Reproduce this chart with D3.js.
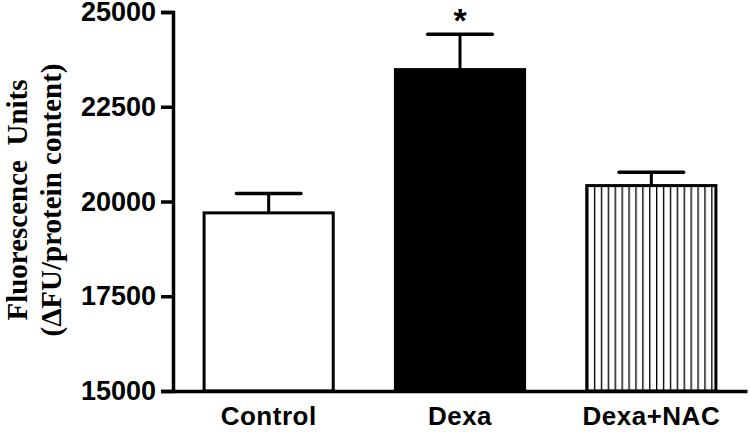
<!DOCTYPE html>
<html>
<head>
<meta charset="utf-8">
<script src="https://cdn.jsdelivr.net/npm/d3@7"></script>
<style>
  body { margin: 0; background: #fff; }
  svg { display: block; }
  .tick text { font-family: "Liberation Sans", Arial, sans-serif; font-weight: bold; }
</style>
</head>
<body>
<svg width="750" height="434"></svg>
<script>
var groups = ['Control', 'Dexa', 'Dexa+NAC'],
    means  = [19700, 23480, 20420],
    sems   = [510, 930, 350],
    marks  = ['', '*', ''],
    yTicks = [15000, 17500, 20000, 22500, 25000];

var svg = d3.select('svg'),
    w = +svg.attr('width'),
    h = +svg.attr('height');

// vertical stripe fill for the last bar
var pat = svg.append('defs').append('pattern')
    .attr('id', 'vstripe')
    .attr('patternUnits', 'userSpaceOnUse')
    .attr('width', 6.9)
    .attr('height', 10)
    .attr('x', 587);
pat.append('rect').attr('width', 6.9).attr('height', 10).attr('fill', '#fff');
pat.append('line')
    .attr('x1', 0.5).attr('x2', 0.5)
    .attr('y1', 0).attr('y2', 10)
    .attr('stroke', '#000')
    .attr('stroke-width', 1.7);

var fills = ['#fff', '#000', 'url(#vstripe)'];

var x = d3.scaleBand()
      .domain(groups)
      .range([173, 747])
      .paddingInner(0.325)
      .paddingOuter(0.1625),
    y = d3.scaleLinear()
      .domain([15000, 25000])
      .range([391, 12]);

var g = svg.append('g');

// bars
g.selectAll('rect.bar')
  .data(groups)
  .enter()
  .append('rect')
  .attr('class', 'bar')
  .attr('x', function(d) { return x(d); })
  .attr('y', function(d, i) { return y(means[i]); })
  .attr('width', x.bandwidth())
  .attr('height', function(d, i) { return y(15000) - y(means[i]); })
  .attr('fill', function(d, i) { return fills[i]; })
  .attr('stroke', '#000')
  .attr('stroke-width', 3);

// upper error bars
var capW = x.bandwidth() / 2;
g.selectAll('line.err')
  .data(groups)
  .enter()
  .append('line')
  .attr('x1', function(d) { return x(d) + x.bandwidth() / 2; })
  .attr('x2', function(d) { return x(d) + x.bandwidth() / 2; })
  .attr('y1', function(d, i) { return y(means[i]); })
  .attr('y2', function(d, i) { return y(means[i] + sems[i]); })
  .attr('stroke', '#000')
  .attr('stroke-width', 3);

g.selectAll('line.cap')
  .data(groups)
  .enter()
  .append('line')
  .attr('x1', function(d) { return x(d) + x.bandwidth() / 2 - capW / 2; })
  .attr('x2', function(d) { return x(d) + x.bandwidth() / 2 + capW / 2; })
  .attr('y1', function(d, i) { return y(means[i] + sems[i]); })
  .attr('y2', function(d, i) { return y(means[i] + sems[i]); })
  .attr('stroke', '#000')
  .attr('stroke-width', 3.5)
  .attr('stroke-linecap', 'round');

// significance star
g.selectAll('text.star')
  .data(groups)
  .enter()
  .append('text')
  .attr('x', function(d) { return x(d) + x.bandwidth() / 2; })
  .attr('y', function(d, i) { return y(means[i] + sems[i]) - 2; })
  .attr('text-anchor', 'middle')
  .style('font-family', '"Liberation Sans", Arial, sans-serif')
  .style('font-weight', 'bold')
  .style('font-size', '34px')
  .text(function(d, i) { return marks[i]; });

// axes
var yAxis = svg.append('g')
    .attr('transform', 'translate(173,0)')
    .call(d3.axisLeft(y).tickValues(yTicks).tickFormat(d3.format('d')).tickSize(12).tickPadding(5));
yAxis.selectAll('text').style('font-size', '27px').attr('fill', '#000');

var xAxis = svg.append('g')
    .attr('transform', 'translate(0,391)')
    .call(d3.axisBottom(x).tickSize(0).tickPadding(16));
xAxis.selectAll('text')
  .style('font-size', '26px')
  .style('letter-spacing', '0.5px')
  .attr('fill', '#000');

svg.selectAll('.domain, .tick line')
  .attr('stroke', '#000')
  .attr('stroke-width', 3.5);

// y axis title, two lines
var title = svg.append('g')
    .attr('transform', 'translate(0,200) rotate(-90)')
    .style('font-family', '"Liberation Serif", "Times New Roman", serif')
    .style('font-weight', 'bold')
    .style('font-size', '29px')
    .attr('text-anchor', 'middle');
title.append('text').attr('y', 27).style('white-space', 'pre').text('Fluorescence  Units');
title.append('text').attr('y', 61).text('(\u0394FU/protein content)');
</script>
</body>
</html>
